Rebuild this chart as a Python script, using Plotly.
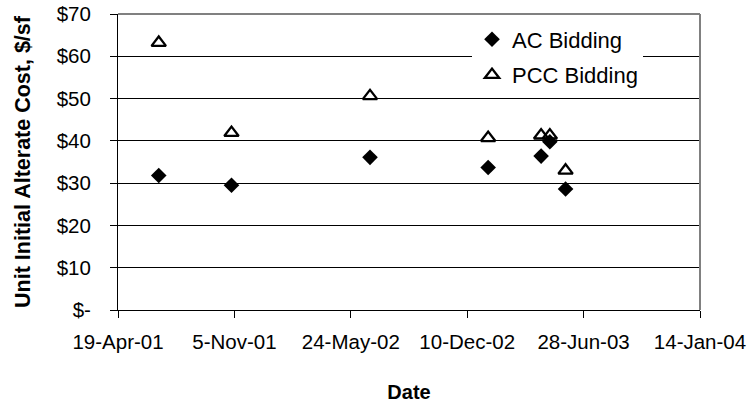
import plotly.graph_objects as go

dates = ["2001-06-28", "2001-10-31", "2002-06-26", "2003-01-15", "2003-04-16", "2003-05-01", "2003-05-28"]
ac_bidding = [31.8, 29.5, 36.1, 33.7, 36.4, 39.8, 28.6]
pcc_bidding = [63.2, 41.9, 50.6, 40.7, 41.3, 41.3, 33.0]

x_tick_vals = ["2001-04-19", "2001-11-05", "2002-05-24", "2002-12-10", "2003-06-28", "2004-01-14"]
x_tick_text = ["19-Apr-01", "5-Nov-01", "24-May-02", "10-Dec-02", "28-Jun-03", "14-Jan-04"]
y_tick_vals = [0, 10, 20, 30, 40, 50, 60, 70]
y_tick_text = ["$-", "$10", "$20", "$30", "$40", "$50", "$60", "$70"]

FONT = "Liberation Sans, Arial, sans-serif"

fig = go.Figure()
fig.add_trace(go.Scatter(
    x=dates, y=ac_bidding, mode="markers", name="AC Bidding", legendgroup="a",
    marker=dict(symbol="diamond", size=12, color="black", line=dict(width=0)),
))
fig.add_trace(go.Scatter(
    x=dates, y=pcc_bidding, mode="markers", name="PCC Bidding", legendgroup="b",
    marker=dict(symbol="triangle-up-open", size=12.5, color="black", line=dict(width=2.3, color="black")),
))

fig.update_layout(
    width=750, height=409,
    margin=dict(l=118, r=50, t=14, b=99),
    paper_bgcolor="white", plot_bgcolor="white",
    font=dict(family=FONT, size=20.5, color="black"),
    showlegend=True,
    legend=dict(
        x=(472 - 118) / 582, y=0.985, xanchor="left", yanchor="top",
        bgcolor="white", borderwidth=0,
        font=dict(family=FONT, size=22, color="black"),
        traceorder="grouped", tracegroupgap=4,
        itemwidth=30,
    ),
    xaxis=dict(
        type="date",
        range=["2001-04-19", "2004-01-14"],
        tickvals=x_tick_vals, ticktext=x_tick_text,
        showgrid=False, zeroline=False,
        showline=True, linecolor="black", linewidth=1,
        ticks="outside", ticklen=7, tickcolor="black",
        ticklabelstandoff=6,
        tickfont=dict(family=FONT, size=20.5, color="black"),
        title=dict(text="<b>Date</b>", font=dict(family=FONT, size=20, color="black"), standoff=33),
        automargin=False,
    ),
    yaxis=dict(
        range=[0, 70],
        tickvals=y_tick_vals, ticktext=y_tick_text,
        showgrid=True, gridcolor="black", gridwidth=1,
        zeroline=False,
        showline=True, linecolor="black", linewidth=1,
        ticks="outside", ticklen=7, tickcolor="black",
        ticklabelstandoff=15,
        tickfont=dict(family=FONT, size=20.5, color="black"),
        title=dict(text="<b>Unit Initial Alterate Cost, $/sf</b>", font=dict(family=FONT, size=21.5, color="black"), standoff=20),
        automargin=False,
    ),
    shapes=[
        dict(type="line", xref="paper", yref="paper", x0=0, x1=1, y0=1, y1=1,
             line=dict(color="#808080", width=2), layer="above"),
        dict(type="line", xref="paper", yref="paper", x0=1, x1=1, y0=0, y1=1,
             line=dict(color="#808080", width=2), layer="above"),
    ],
)

fig.write_html("out.html")
